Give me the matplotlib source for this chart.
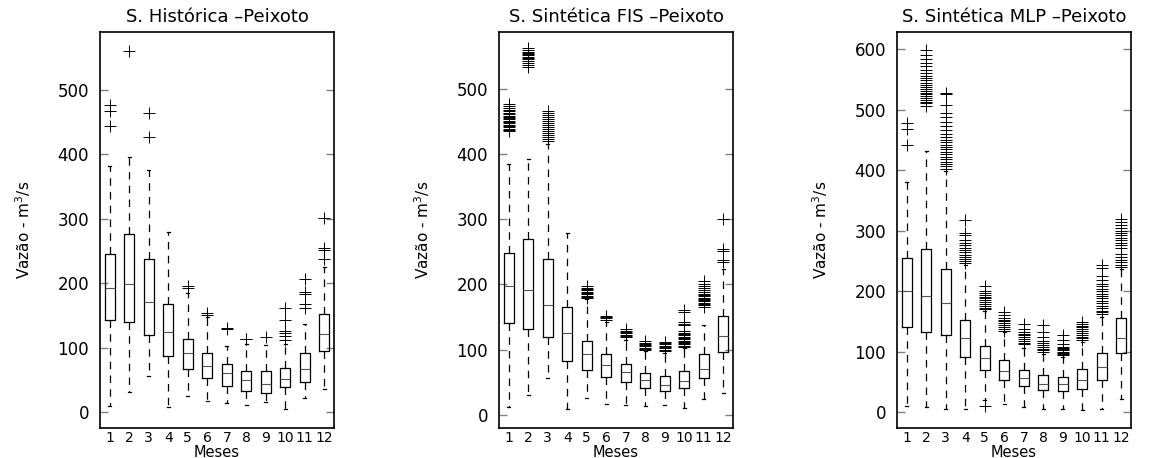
import matplotlib
matplotlib.use("Agg")
import matplotlib.pyplot as plt

months = [str(m) for m in range(1, 13)]

# S. Historica
hist_med = [193, 198, 170, 124, 91, 71, 60, 49, 44, 51, 67, 121]
hist_q1 = [142, 140, 119, 87, 67, 52, 40, 33, 30, 39, 47, 95]
hist_q3 = [246, 276, 237, 167, 114, 91, 74, 63, 63, 68, 92, 152]
hist_wlo = [9, 31, 56, 8, 25, 17, 14, 11, 15, 4, 22, 35]
hist_whi = [382, 396, 376, 280, 185, 147, 103, 106, 104, 106, 136, 225]
hist_fliers = [
    [477, 467, 444],
    [560],
    [464, 427],
    [],
    [195, 193],
    [153, 150],
    [131, 128],
    [114, 113],
    [116],
    [162, 142, 125, 122, 118, 111],
    [206, 186, 183, 167, 162],
    [301, 255, 252, 238],
]

# S. Sintetica FIS
fis_med = [198, 191, 168, 126, 94, 77, 66, 54, 46, 52, 70, 121]
fis_q1 = [141, 131, 120, 82, 69, 58, 50, 42, 36, 42, 56, 97]
fis_q3 = [248, 269, 239, 166, 113, 93, 78, 64, 60, 68, 94, 151]
fis_wlo = [12, 31, 57, 9, 26, 17, 15, 13, 15, 10, 24, 34]
fis_whi = [384, 393, 415, 279, 177, 143, 115, 98, 95, 103, 138, 223]
fis_fliers = [
    [477, 474, 471, 468, 466, 463, 461, 459, 457, 455, 453, 451, 449, 447,
     445, 443, 441, 439, 437, 435],
    [563, 560, 557, 555, 553, 551, 549, 547, 545, 543, 540, 537, 533],
    [466, 463, 460, 457, 454, 451, 448, 445, 441, 438, 435, 432, 429, 426,
     423, 420],
    [],
    [198, 195, 193, 191, 189, 187, 185, 183, 181, 179],
    [152, 150, 148, 146],
    [131, 129, 127, 125, 123, 121, 119],
    [113, 111, 109, 107, 105, 103, 101, 99],
    [112, 110, 108, 106, 104, 102, 100, 98],
    [161, 158, 142, 140, 138, 128, 126, 124, 122, 120, 118, 116, 114, 112,
     110, 108, 106, 104],
    [205, 201, 197, 194, 191, 188, 186, 184, 182, 180, 178, 176, 174, 172,
     170, 168, 166],
    [301, 254, 252, 238, 235],
]

# S. Sintetica MLP
mlp_med = [200, 192, 180, 122, 90, 68, 56, 47, 46, 54, 75, 123]
mlp_q1 = [141, 132, 127, 92, 70, 53, 44, 36, 35, 39, 54, 98]
mlp_q3 = [254, 270, 236, 153, 110, 86, 70, 61, 59, 72, 98, 155]
mlp_wlo = [10, 9, 6, 6, 20, 13, 8, 6, 6, 4, 6, 22]
mlp_whi = [380, 431, 398, 243, 168, 132, 106, 96, 91, 116, 157, 236]
mlp_fliers = [
    [478, 468, 442],
    [598, 590, 584, 577, 572, 566, 560, 556, 552, 548, 544, 540, 537, 534,
     531, 528, 525, 522, 519, 516, 513, 510, 506],
    [528, 526, 507, 494, 488, 480, 472, 466, 460, 455, 450, 446, 442, 438,
     434, 430, 426, 422, 418, 414, 410, 406, 402],
    [317, 296, 292, 284, 280, 276, 272, 268, 264, 260, 256, 253, 250, 247],
    [208, 200, 197, 194, 191, 188, 185, 182, 179, 176, 173, 170, 10],
    [165, 160, 156, 153, 150, 147, 144, 141, 138, 135],
    [145, 138, 133, 130, 127, 124, 121, 118, 115, 112],
    [144, 132, 124, 118, 114, 111, 108, 105, 102, 99],
    [127, 120, 112, 108, 106, 104, 102, 100, 98, 96, 94],
    [149, 146, 143, 140, 137, 134, 131, 128, 125, 122, 119],
    [243, 238, 225, 218, 212, 208, 204, 200, 196, 192, 188, 184, 180, 176,
     172, 168, 165, 162],
    [320, 315, 310, 304, 300, 296, 292, 288, 284, 280, 276, 272, 262, 256,
     252, 248, 244, 240],
]

panels = [
    ("S. Histórica \u2013Peixoto", hist_med, hist_q1, hist_q3, hist_wlo, hist_whi, hist_fliers,
     (-25, 590), range(0, 501, 100), 0.0858),
    ("S. Sintética FIS \u2013Peixoto", fis_med, fis_q1, fis_q3, fis_wlo, fis_whi, fis_fliers,
     (-20, 587), range(0, 501, 100), 0.4280),
    ("S. Sintética MLP \u2013Peixoto", mlp_med, mlp_q1, mlp_q3, mlp_wlo, mlp_whi, mlp_fliers,
     (-26, 628), range(0, 601, 100), 0.7693),
]

plt.rcParams['font.family'] = ['DejaVu Sans']
fig = plt.figure(figsize=(11.66, 4.58), dpi=100)

for title, med, q1, q3, wlo, whi, fl, ylim, yticks, left in panels:
    ax = fig.add_axes([left, 0.0655, 0.2007, 0.8646])
    stats = []
    for i in range(12):
        stats.append(dict(med=med[i], q1=q1[i], q3=q3[i], whislo=wlo[i],
                          whishi=whi[i], fliers=fl[i], label=months[i]))
    ax.bxp(stats, positions=range(1, 13), widths=0.5, capwidths=0.15,
           boxprops=dict(color='black', linewidth=0.9),
           medianprops=dict(color='#555555', linewidth=0.8),
           whiskerprops=dict(color='black', linewidth=0.9, linestyle=(0, (6, 5))),
           capprops=dict(color='black', linewidth=0.9),
           flierprops=dict(marker='+', markersize=9, markeredgecolor='black',
                           markeredgewidth=0.7, linestyle='none'))
    ax.set_xlim(0.5, 12.5)
    ax.set_ylim(*ylim)
    ax.set_yticks(list(yticks))
    ax.tick_params(axis='y', direction='in', left=True, right=True, length=6,
                   color='#808080', width=1, labelsize=12, pad=8)
    ax.tick_params(axis='x', length=0, labelsize=10, pad=2)
    for s in ax.spines.values():
        s.set_linewidth(1.2)
        s.set_color('black')
    ax.set_title(title, fontsize=13, pad=7)
    ax.set_xlabel("Meses", fontsize=10.5, labelpad=0)
    ax.set_ylabel("Vazão - m$^3$/s", fontsize=11,
                  family=['Liberation Sans Narrow', 'DejaVu Sans'])
    ax.yaxis.set_label_coords(-0.285, 0.5)

fig.savefig("out.png", dpi=100)
